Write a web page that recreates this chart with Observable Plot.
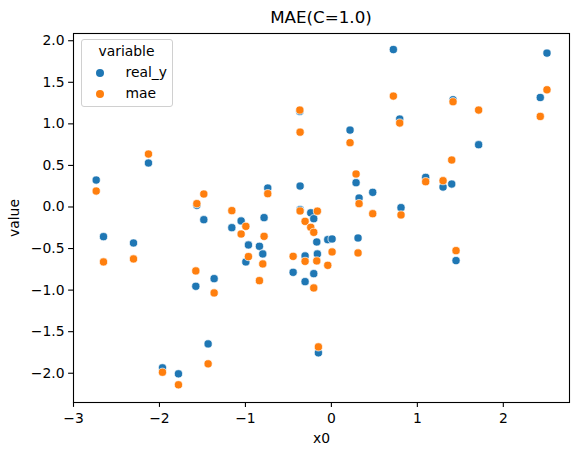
<!DOCTYPE html>
<html>
<head>
<meta charset="utf-8">
<script src="https://cdn.jsdelivr.net/npm/d3@7"></script>
<script src="https://cdn.jsdelivr.net/npm/@observablehq/plot@0.6"></script>
<style>
  html, body { margin: 0; padding: 0; background: #fff; }
  #wrap { position: relative; width: 578px; height: 455px; font-family: "DejaVu Sans", sans-serif; }
  #title { position: absolute; left: 73px; width: 496px; top: 7px; text-align: center; font-size: 16.7px; line-height: 20px; color: #000; }
  #legend { position: absolute; left: 80.5px; top: 39px; width: 90px; height: 66px; border: 1px solid #d0d0d0; border-radius: 3px; background: rgba(255,255,255,0.8); font-size: 13.9px; color: #000; }
  #legend .t { position: absolute; left: 0; width: 90px; top: 3px; text-align: center; }
  #legend .row { position: absolute; left: 0; height: 16px; }
  #legend .dot { position: absolute; left: 14px; top: 4px; width: 8px; height: 8px; border-radius: 50%; }
  #legend .lab { position: absolute; left: 44px; top: -1px; white-space: nowrap; }
</style>
</head>
<body>
<div id="wrap">
  <div id="title"></div>
  <div id="legend"></div>
</div>
<script>
const title = "MAE(C=1.0)";
const seriesNames = ["real_y", "mae"];
const seriesColors = ["#1f77b4", "#ff7f0e"];
const legendTitle = "variable";

const x0 = [-2.736, -2.651, -2.302, -2.128, -1.965, -1.779, -1.565, -1.484, -1.577, -1.434,
            -1.364, -1.158, -1.05, -0.995, -0.965, -0.837, -0.798, -0.783, -0.74, -0.445,
            -0.367, -0.364, -0.364, -0.306, -0.306, -0.24, -0.205, -0.205, -0.17, -0.163,
            -0.151, -0.042, 0.008, 0.217, 0.287, 0.322, 0.31, 0.481, 0.721, 0.795,
            0.81, 1.097, 1.299, 1.4, 1.415, 1.45, 1.713, 2.43, 2.508];
const real_y = [0.324, -0.357, -0.433, 0.529, -1.935, -2.007, 0.02, -0.153, -0.954, -1.647,
            -0.862, -0.249, -0.168, -0.661, -0.457, -0.473, -0.565, -0.128, 0.228, -0.786,
            1.15, -0.032, 0.252, -0.589, -0.898, -0.07, -0.141, -0.802, -0.421, -0.565,
            -1.755, -0.393, -0.385, 0.925, 0.292, 0.108, -0.373, 0.176, 1.894, 1.058,
            -0.008, 0.356, 0.24, 0.276, 1.29, -0.645, 0.749, 1.317, 1.851];
const mae = [0.192, -0.661, -0.625, 0.637, -1.988, -2.139, 0.04, 0.156, -0.769, -1.887,
            -1.034, -0.044, -0.325, -0.233, -0.597, -0.886, -0.685, -0.353, 0.16, -0.594,
            1.166, -0.048, 0.90, -0.654, -0.173, -0.245, -0.305, -0.974, -0.649, -0.05,
            -1.683, -0.702, -0.541, 0.773, 0.397, 0.04, -0.553, -0.081, 1.334, 1.01,
            -0.096, 0.304, 0.316, 0.565, 1.266, -0.525, 1.166, 1.089, 1.41];
const xTicks = [-3, -2, -1, 0, 1, 2];
const yTicks = [-2, -1.5, -1, -0.5, 0, 0.5, 1, 1.5, 2];

const realData = x0.map((x, i) => ({x, y: real_y[i]}));
const maeData = x0.map((x, i) => ({x, y: mae[i]}));

const chart = Plot.plot({
  width: 578,
  height: 455,
  marginLeft: 73,
  marginRight: 9,
  marginTop: 33,
  marginBottom: 53,
  style: {fontFamily: "DejaVu Sans, sans-serif", fontSize: "13.9px", color: "#000", background: "#fff"},
  x: {domain: [-3, 2.77]},
  y: {domain: [-2.352, 2.087]},
  marks: [
    Plot.axisX({ticks: xTicks, tickFormat: d3.format("d"), tickSize: 4.9, tickPadding: 6, strokeWidth: 1.1,
      label: "x0", labelAnchor: "center", labelArrow: "none", labelOffset: 40}),
    Plot.axisY({ticks: yTicks, tickFormat: d3.format(".1f"), tickSize: 4.9, tickPadding: 4, strokeWidth: 1.1,
      label: "value", labelAnchor: "center", labelArrow: "none", labelOffset: 64}),
    Plot.dot(realData, {x: "x", y: "y", r: 4.1, fill: seriesColors[0], stroke: "#fff", strokeWidth: 0.7}),
    Plot.dot(maeData, {x: "x", y: "y", r: 4.1, fill: seriesColors[1], stroke: "#fff", strokeWidth: 0.7}),
    Plot.frame({stroke: "#000", strokeWidth: 1.1})
  ]
});
document.getElementById("wrap").insertBefore(chart, document.getElementById("title"));
chart.style.position = "absolute";
chart.style.left = "0";
chart.style.top = "0";

document.getElementById("title").textContent = title;
const lg = document.getElementById("legend");
const t = document.createElement("div");
t.className = "t"; t.textContent = legendTitle; lg.appendChild(t);
seriesNames.forEach((name, i) => {
  const row = document.createElement("div");
  row.className = "row";
  row.style.top = (25 + i * 21) + "px";
  const dot = document.createElement("span");
  dot.className = "dot"; dot.style.background = seriesColors[i];
  const lab = document.createElement("span");
  lab.className = "lab"; lab.textContent = name;
  row.appendChild(dot); row.appendChild(lab);
  lg.appendChild(row);
});
</script>
</body>
</html>
